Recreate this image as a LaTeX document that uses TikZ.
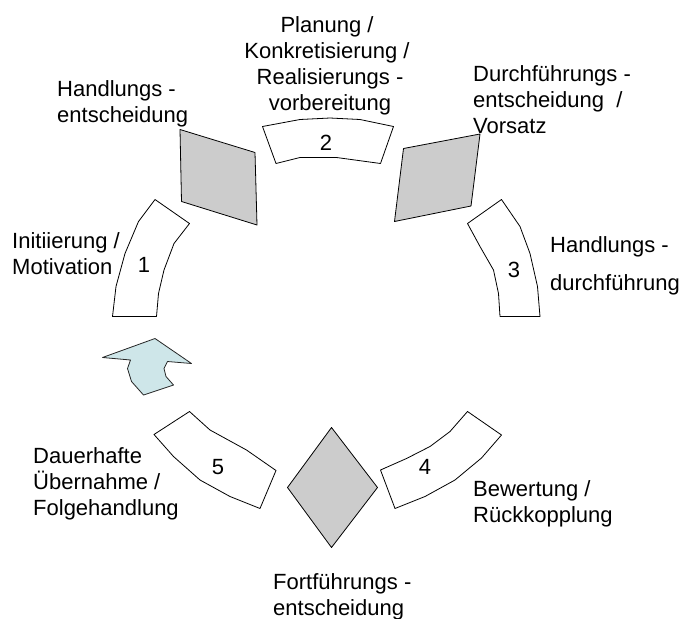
\documentclass[tikz,border=0pt]{standalone}
\usepackage{fontspec}
\setmainfont{Liberation Sans}
\begin{document}
\begin{tikzpicture}[x=1pt,y=-1pt,
  lbl/.style={inner sep=0pt, font=\fontsize{22}{26}\selectfont},
  phase/.style={draw=black, line width=0.8pt, fill=white, line join=round},
  gate/.style={draw=black, line width=0.8pt, fill=gateGrey, line join=round},
  entry/.style={draw=black!85, line width=0.8pt, fill=entryCyan, line join=round}]
\definecolor{gateGrey}{RGB}{204,204,204}
\definecolor{entryCyan}{RGB}{206,230,233}
\useasboundingbox (0,0) rectangle (686,619);

% phase 1
\draw[phase] (155,199.5) -- (189.5,223.5) -- (174,243.5) -- (164,270) -- (158.5,293.5)
  -- (156.5,316.5) -- (112.5,316.5) -- (116,286.5) -- (125,253.5) -- (138.5,221.5) -- cycle;
% phase 2
\draw[phase] (262.5,126.5) -- (300,119.5) -- (330,118) -- (360,119.5) -- (393.5,126.5)
  -- (380.5,163.5) -- (336.5,157.5) -- (300,157.5) -- (276,163.5) -- cycle;
% phase 3
\draw[phase] (501.5,199.5) -- (520,226.5) -- (530,253.5) -- (537.5,286.5) -- (540,316.5)
  -- (500,316.5) -- (498.5,293.5) -- (493.5,270) -- (480,246.5) -- (467.5,223.5) -- cycle;
% phase 4
\draw[phase] (467.5,411.5) -- (501.5,435) -- (481.5,458) -- (455,480) -- (425,496.5)
  -- (395,508.5) -- (380.5,470) -- (406.5,458.5) -- (430,446.5) -- (450,431.5) -- cycle;
% phase 5
\draw[phase] (189.5,411.5) -- (210,430) -- (246.5,450) -- (276,470.5) -- (260,508.5)
  -- (230,496.5) -- (200,480) -- (173.5,456.5) -- (154,434.5) -- cycle;

% decision gates
\draw[gate] (180,129.5) -- (255,152.5) -- (257,225) -- (181.5,201.5) -- cycle;
\draw[gate] (403.5,148.5) -- (480,134) -- (471,206) -- (394.5,221.5) -- cycle;
\draw[gate] (331.5,427.5) -- (377.5,487.5) -- (331.5,547.5) -- (287.5,487.5) -- cycle;

% entry arrow
\draw[entry] (102.5,357.5) -- (155,338.5) -- (191.5,363.5) -- (167.5,361.5) -- (164,368.5)
  -- (166,376.5) -- (173.5,385) -- (143.5,395) -- (131.5,381.5) -- (127.5,368.5)
  -- (130.5,360) -- cycle;

% phase numbers
\node[lbl] (n1) at (144,265) {1};
\node[lbl] (n2) at (326,143) {2};
\node[lbl] (n3) at (514,270) {3};
\node[lbl] (n4) at (425,467) {4};
\node[lbl] (n5) at (218,467) {5};

% labels
\node[lbl, anchor=base west] (hent) at (57,96)
  {\begin{tabular}[t]{@{}l@{}}Handlungs -\\entscheidung\end{tabular}};
\node[lbl, anchor=base] (plan) at (327,32)
  {\begin{tabular}[t]{@{}c@{}}Planung /\\Konkretisierung /\\\ Realisierungs -\\\ vorbereitung\end{tabular}};
\node[lbl, anchor=base west] (dent) at (473,81)
  {\begin{tabular}[t]{@{}l@{}}Durchführungs -\\entscheidung\ \ /\\Vorsatz\end{tabular}};
\node[lbl, anchor=base west] (init) at (12,248)
  {\begin{tabular}[t]{@{}l@{}}Initiierung /\\Motivation\end{tabular}};
\node[lbl, anchor=base west] (hdur) at (550,252)
  {\begin{tabular}[t]{@{}l@{}}Handlungs -\\[12pt]durchführung\end{tabular}};
\node[lbl, anchor=base west] (bew) at (473,496)
  {\begin{tabular}[t]{@{}l@{}}Bewertung /\\Rückkopplung\end{tabular}};
\node[lbl, anchor=base west] (dauer) at (33,463)
  {\begin{tabular}[t]{@{}l@{}}Dauerhafte\\Übernahme /\\Folgehandlung\end{tabular}};
\node[lbl, anchor=base west] (fort) at (273,589)
  {\begin{tabular}[t]{@{}l@{}}Fortführungs -\\entscheidung\end{tabular}};
\end{tikzpicture}
\end{document}
